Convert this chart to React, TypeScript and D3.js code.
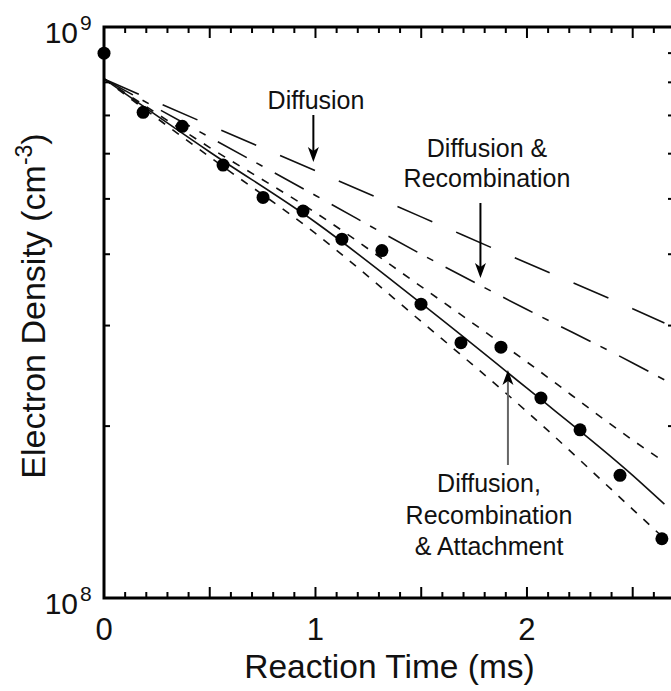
import React, { useEffect, useRef } from 'react';
import * as d3 from 'd3';

// measured electron density (cm^-3) vs reaction time (ms)
const timeMs = [0, 0.185, 0.37, 0.563, 0.752, 0.941, 1.125, 1.314, 1.499, 1.688, 1.877, 2.066, 2.251, 2.44, 2.638];
const density = [9.0e8, 7.09e8, 6.7e8, 5.73e8, 5.03e8, 4.76e8, 4.25e8, 4.06e8, 3.27e8, 2.8e8, 2.75e8, 2.24e8, 1.97e8, 1.64e8, 1.27e8];

// model curves
const modelTime = [0, 0.5, 1, 1.5, 2, 2.5, 2.65];
const diffusionOnly = [8.11e8, 6.73e8, 5.6e8, 4.65e8, 3.86e8, 3.21e8, 3.03e8];
const diffRecomb = [8.11e8, 6.41e8, 5.07e8, 4.0e8, 3.2e8, 2.58e8, 2.41e8];
const fullModel = [8.11e8, 6.04e8, 4.55e8, 3.28e8, 2.33e8, 1.64e8, 1.46e8];
const fullUpper = [8.11e8, 6.15e8, 4.73e8, 3.51e8, 2.59e8, 1.89e8, 1.73e8];
const fullLower = [8.11e8, 5.92e8, 4.35e8, 3.05e8, 2.12e8, 1.43e8, 1.27e8];

const xTickLabels = [0, 1, 2];

const FONT = 'Liberation Sans, Arial, Helvetica, sans-serif';

const App = () => {
  const svgRef = useRef<SVGSVGElement>(null);

  useEffect(() => {
    const W = 671, H = 691;
    const svg = d3.select(svgRef.current);
    svg.selectAll('*').remove();
    svg.attr('width', W).attr('height', H);

    const left = 104, right = 675, top = 27, bottom = 598;
    const x = d3.scaleLinear().domain([0, 2.7]).range([left, right]);
    const y = d3.scaleLog().domain([1e8, 1e9]).range([bottom, top]);

    const g = svg.append('g').attr('font-family', FONT).attr('fill', '#111');

    // model curves
    const series = [
      { values: diffusionOnly, dash: '38,26', width: 1.6 },
      { values: diffRecomb, dash: '33,11,7,14', width: 1.6 },
      { values: fullUpper, dash: '8,9', width: 1.6 },
      { values: fullLower, dash: '8,9', width: 1.6 },
      { values: fullModel, dash: null, width: 1.6 },
    ];
    const line = d3.line<number>()
      .x((d, i) => x(modelTime[i]))
      .y(d => y(d))
      .curve(d3.curveMonotoneX);
    series.forEach(s => {
      g.append('path')
        .datum(s.values)
        .attr('fill', 'none')
        .attr('stroke', '#111')
        .attr('stroke-width', s.width)
        .attr('stroke-dasharray', s.dash)
        .attr('d', line);
    });

    // measured points
    g.append('g').selectAll('circle')
      .data(density)
      .enter().append('circle')
      .attr('cx', (d, i) => x(timeMs[i]))
      .attr('cy', d => y(d))
      .attr('r', 6.5)
      .attr('fill', '#000');

    // frame
    g.append('rect')
      .attr('x', left).attr('y', top)
      .attr('width', right - left).attr('height', bottom - top)
      .attr('fill', 'none').attr('stroke', '#000').attr('stroke-width', 3);

    // x ticks (bottom and top, inward)
    const xt = d3.range(0, 28).map(i => i / 10);
    xt.forEach(t => {
      const major = Math.abs(t * 2 - Math.round(t * 2)) < 1e-6;
      const len = major ? 11 : 6;
      g.append('line').attr('x1', x(t)).attr('x2', x(t))
        .attr('y1', bottom).attr('y2', bottom - len)
        .attr('stroke', '#000').attr('stroke-width', 2);
      g.append('line').attr('x1', x(t)).attr('x2', x(t))
        .attr('y1', top).attr('y2', top + len)
        .attr('stroke', '#000').attr('stroke-width', 2);
    });

    // y minor log ticks (left and right, inward)
    const yt = d3.range(2, 10).map(k => k * 1e8);
    yt.forEach(v => {
      g.append('line').attr('x1', left).attr('x2', left + 6)
        .attr('y1', y(v)).attr('y2', y(v))
        .attr('stroke', '#000').attr('stroke-width', 2);
      g.append('line').attr('x1', right).attr('x2', right - 7)
        .attr('y1', y(v)).attr('y2', y(v))
        .attr('stroke', '#000').attr('stroke-width', 2);
    });

    // x tick labels
    g.selectAll('.xl')
      .data(xTickLabels)
      .enter().append('text')
      .attr('x', d => x(d))
      .attr('y', 640)
      .attr('text-anchor', 'middle')
      .attr('font-size', 31)
      .text(d => d);

    // y tick labels 10^8, 10^9
    [1e8, 1e9].forEach(v => {
      const exp = Math.round(Math.log10(v));
      g.append('text')
        .attr('x', 78)
        .attr('y', y(v) + 16)
        .attr('text-anchor', 'end')
        .attr('font-size', 30)
        .text('10');
      g.append('text')
        .attr('x', 80)
        .attr('y', y(v) + 3)
        .attr('font-size', 21)
        .text(exp);
    });

    // axis titles
    g.append('text')
      .attr('x', (left + right) / 2)
      .attr('y', 678)
      .attr('text-anchor', 'middle')
      .attr('font-size', 33.5)
      .text('Reaction Time (ms)');

    const yl = g.append('text')
      .attr('transform', `translate(45,306) rotate(-90)`)
      .attr('text-anchor', 'middle')
      .attr('font-size', 34);
    yl.append('tspan').text('Electron Density (cm');
    yl.append('tspan').attr('font-size', 23).attr('dy', -13).text('-3');
    yl.append('tspan').attr('dy', 13).text(')');

    // annotations
    const arrow = (t: number, v0: number, v1: number, color: string) => {
      const xa = x(t), y0 = y(v0), y1 = y(v1);
      const dir = y1 > y0 ? 1 : -1;
      g.append('line').attr('x1', xa).attr('x2', xa)
        .attr('y1', y0).attr('y2', y1 - dir * 10)
        .attr('stroke', color).attr('stroke-width', 2);
      g.append('path')
        .attr('d', `M${xa},${y1} L${xa - 5.5},${y1 - dir * 15} L${xa},${y1 - dir * 11} L${xa + 5.5},${y1 - dir * 15} Z`)
        .attr('fill', '#000');
    };
    const label = (cx: number, baselines: number[], lines: string[]) => {
      lines.forEach((s, i) => {
        g.append('text')
          .attr('x', cx).attr('y', baselines[i])
          .attr('text-anchor', 'middle')
          .attr('font-size', 25)
          .text(s);
      });
    };

    label(316, [109], ['Diffusion']);
    arrow(0.99, y.invert(115), y.invert(162), '#000');

    label(487, [157, 187], ['Diffusion &', 'Recombination']);
    arrow(1.78, y.invert(203), y.invert(278), '#000');

    label(489, [492, 524, 555], ['Diffusion,', 'Recombination', '& Attachment']);
    arrow(1.91, y.invert(465), y.invert(370), '#666');
  }, []);

  return (
    <svg
      ref={svgRef}
      style={{ position: 'absolute', left: 0, top: 0, display: 'block', background: '#fff' }}
    ></svg>
  );
};

export default App;
